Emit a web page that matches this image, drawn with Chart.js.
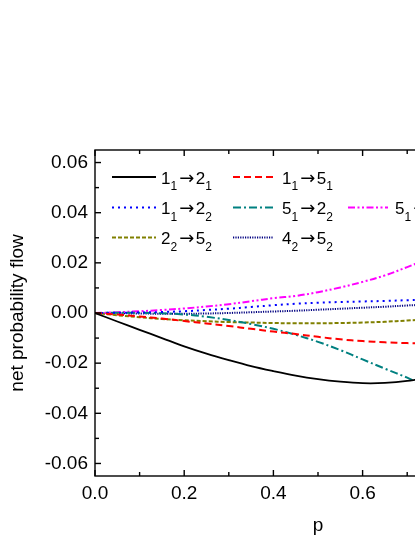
<!DOCTYPE html>
<html><head><meta charset="utf-8">
<script src="https://cdn.jsdelivr.net/npm/chart.js@4/dist/chart.umd.min.js"></script>
<style>
html,body{margin:0;padding:0;overflow:hidden;background:#fff;width:415px;height:537px}
#wrap{position:absolute;left:0;top:0;width:580px;height:537px}
</style>
</head><body><div id="wrap"><canvas id="c" width="580" height="537"></canvas></div>
<script>
// ---- data ----
const pValues   = [0, 0.05, 0.10, 0.15, 0.20, 0.25, 0.30, 0.35, 0.40, 0.45, 0.50, 0.55, 0.60, 0.65, 0.70, 0.75];
const flow11to21 = [0, -0.0034, -0.0067, -0.0100, -0.0133, -0.0162, -0.0188, -0.0212, -0.0232, -0.0250, -0.0264, -0.0274, -0.0280, -0.0279, -0.0271, -0.0256];
const flow11to51 = [0, -0.0006, -0.0014, -0.0022, -0.0032, -0.0042, -0.0052, -0.0063, -0.0074, -0.0084, -0.0095, -0.0105, -0.0112, -0.0117, -0.0120, -0.0122];
const flow11to22 = [0, 0.0001, 0.0002, 0.0004, 0.0007, 0.0012, 0.0017, 0.0024, 0.0031, 0.0037, 0.0041, 0.0044, 0.0046, 0.0048, 0.0051, 0.0053];
const flow51to22 = [0, 0.0001, 0.0001, -0.0001, -0.0006, -0.0015, -0.0028, -0.0044, -0.0063, -0.0087, -0.0115, -0.0148, -0.0185, -0.0222, -0.0258, -0.0300];
const flow51to52 = [0, 0.0003, 0.0007, 0.0012, 0.0018, 0.0026, 0.0035, 0.0047, 0.0059, 0.0068, 0.0083, 0.0102, 0.0124, 0.0150, 0.0183, 0.0218];
const flow22to52 = [0, -0.0009, -0.0017, -0.0024, -0.0029, -0.0033, -0.0036, -0.0038, -0.0040, -0.0041, -0.0041, -0.0040, -0.0038, -0.0035, -0.0030, -0.0026];
const flow42to52 = [0, -0.0001, -0.0002, -0.0003, -0.0003, -0.0002, 0.0000, 0.0003, 0.0006, 0.0009, 0.0013, 0.0017, 0.0021, 0.0025, 0.0030, 0.0034];
const seriesNames = ["1_1→2_1", "1_1→5_1", "1_1→2_2", "5_1→2_2", "5_1→5_2", "2_2→5_2", "4_2→5_2"];
const xTickValues = [0, 0.2, 0.4, 0.6, 0.8, 1.0];
const xMinorValues = [0.1, 0.3, 0.5, 0.7, 0.9];
const yTickValues = [-0.06, -0.04, -0.02, 0, 0.02, 0.04, 0.06];
const yMinorValues = [-0.05, -0.03, -0.01, 0.01, 0.03, 0.05];
const xTitle = "p";
const yTitle = "net probability flow";

// ---- styles ----
const F = "'Liberation Sans', Arial, sans-serif";
const seriesValues = [flow11to21, flow11to51, flow11to22, flow51to22, flow51to52, flow22to52, flow42to52];
const styles = [
  {color:'#000000', dash:[], width:1.8},
  {color:'#ff0000', dash:[7,4], width:2},
  {color:'#0000ff', dash:[2,4], width:2},
  {color:'#008080', dash:[8,3,2,3], width:2},
  {color:'#ff00ff', dash:[7,2.5,2,2.5,2,2.5], width:2},
  {color:'#808000', dash:[4,2], width:2},
  {color:'#000080', dash:[1.2,1.2], width:2}
];
// legend slot [column,row] for each series
const slots = [[0,0],[1,0],[0,1],[1,1],[2,1],[0,2],[1,2]];
const colLine = [[112,156],[233,273],[348,388]];
const colText = [161,282,395];
const rowY = [177,207.5,237.5];

const datasets = seriesValues.map((vals,i)=>({
  label: seriesNames[i],
  data: pValues.map((p,j)=>({x:p,y:vals[j]})),
  borderColor: styles[i].color,
  borderDash: styles[i].dash,
  borderWidth: styles[i].width,
  pointRadius: 0,
  tension: 0.35,
  fill:false
}));

const framePlugin = {
  id:'frame',
  afterDatasetsDraw(chart){
    const {ctx, chartArea:a, scales:{x,y}} = chart;
    ctx.save();
    ctx.strokeStyle='#000'; ctx.lineWidth=1.4; ctx.setLineDash([]);
    ctx.strokeRect(a.left, a.top, a.right-a.left, a.bottom-a.top);
    const tick=(x1,y1,x2,y2)=>{ctx.beginPath();ctx.moveTo(x1,y1);ctx.lineTo(x2,y2);ctx.stroke();};
    xTickValues.forEach(v=>{const px=x.getPixelForValue(v); tick(px,a.bottom,px,a.bottom-6); tick(px,a.top,px,a.top+6);});
    xMinorValues.forEach(v=>{const px=x.getPixelForValue(v); tick(px,a.bottom,px,a.bottom-4); tick(px,a.top,px,a.top+4);});
    yTickValues.forEach(v=>{const py=y.getPixelForValue(v); tick(a.left,py,a.left+6,py); tick(a.right,py,a.right-6,py);});
    yMinorValues.forEach(v=>{const py=y.getPixelForValue(v); tick(a.left,py,a.left+4,py); tick(a.right,py,a.right-4,py);});
    // legend
    chart.data.datasets.forEach((ds,i)=>{
      const [c,r]=slots[i]; const yy=rowY[r];
      ctx.strokeStyle=ds.borderColor; ctx.lineWidth=ds.borderWidth; ctx.setLineDash(ds.borderDash);
      ctx.beginPath(); ctx.moveTo(colLine[c][0],yy); ctx.lineTo(colLine[c][1],yy); ctx.stroke();
      ctx.setLineDash([]);
      ctx.fillStyle='#000'; ctx.textBaseline='alphabetic'; ctx.textAlign='left';
      let tx=colText[c]; const base=yy+6.5;
      const s=ds.label;
      for(let k=0;k<s.length;k++){
        if(s[k]==='_'){ k++; ctx.font='12px '+F; ctx.fillText(s[k],tx,base+6.5); tx+=ctx.measureText(s[k]).width+0.5; }
        else if(s[k]==='→'){ ctx.font="18px 'DejaVu Sans'"; tx+=1.5; ctx.fillText(s[k],tx,base); tx+=ctx.measureText(s[k]).width+1.5; }
        else { ctx.font='17px '+F; ctx.fillText(s[k],tx,base); tx+=ctx.measureText(s[k]).width; }
      }
    });
    ctx.restore();
  }
};

new Chart(document.getElementById('c'),{
  type:'line',
  data:{datasets},
  plugins:[framePlugin],
  options:{
    responsive:false, animation:false,
    layout:{padding:{left:0,right:39,top:150,bottom:0}},
    plugins:{legend:{display:false},tooltip:{enabled:false}},
    scales:{
      x:{type:'linear',min:0,max:1,
        afterBuildTicks:s=>{s.ticks=xTickValues.map(v=>({value:v}));},
        afterFit:s=>{s.height=61;},
        grid:{display:false,drawTicks:false},
        border:{display:false},
        ticks:{padding:6,color:'#000',font:{family:F,size:19},maxRotation:0,autoSkip:false,callback:v=>Number(v).toFixed(1)},
        title:{display:true,text:xTitle,color:'#000',font:{family:F,size:19},padding:{top:0,bottom:0}}
      },
      y:{type:'linear',min:-0.065,max:0.065,
        afterBuildTicks:s=>{s.ticks=yTickValues.map(v=>({value:v}));},
        afterFit:s=>{s.width=95;},
        grid:{display:false,drawTicks:false},
        border:{display:false},
        ticks:{padding:7,color:'#000',font:{family:F,size:19},autoSkip:false,callback:v=>(Math.abs(v)<1e-9?0:Number(v)).toFixed(2)},
        title:{display:true,text:yTitle,color:'#000',font:{family:F,size:19},padding:{top:6,bottom:0}}
      }
    }
  }
});
</script>
</body></html>
